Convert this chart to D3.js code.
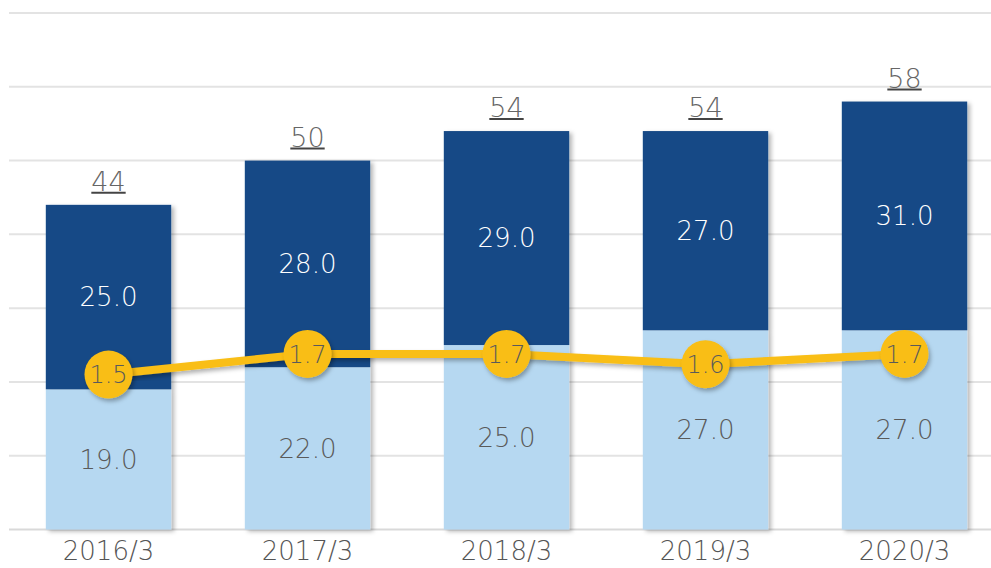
<!DOCTYPE html>
<html><head><meta charset="utf-8">
<script src="https://cdn.jsdelivr.net/npm/d3@7"></script>
<style>html,body{margin:0;padding:0;background:#fff;}svg{display:block;}</style>
</head><body>
<svg id="c" width="991" height="568"></svg>
<script>
const categories = ["2016/3","2017/3","2018/3","2019/3","2020/3"];
const lowerValues = [19.0, 22.0, 25.0, 27.0, 27.0];
const upperValues = [25.0, 28.0, 29.0, 27.0, 31.0];
const totalLabels = ["44","50","54","54","58"];
const lineValues = [1.5, 1.7, 1.7, 1.6, 1.7];
const gridTicks = [0,10,20,30,40,50,60,70];

const FONT = "'DejaVu Sans', sans-serif";
const FW = 200;
const svg = d3.select("#c");
const defs = svg.append("defs");
const f = defs.append("filter").attr("id","sh").attr("x","-20%").attr("y","-20%").attr("width","140%").attr("height","140%");
f.append("feDropShadow").attr("dx",3).attr("dy",2).attr("stdDeviation",2).attr("flood-color","#000").attr("flood-opacity",0.28);
const f2 = defs.append("filter").attr("id","sh2").attr("x","-30%").attr("y","-30%").attr("width","160%").attr("height","160%");
f2.append("feDropShadow").attr("dx",2).attr("dy",3).attr("stdDeviation",2).attr("flood-color","#000").attr("flood-opacity",0.3);

const x = d3.scaleBand().domain(categories).range([9, 1004]).paddingInner(0.37).paddingOuter(0.185);
const y = d3.scaleLinear().domain([0,70]).range([529.5, 13]);
const y2 = d3.scaleLinear().domain([0,5]).range([529.5, 13]);

// gridlines
svg.append("g").selectAll("line").data(gridTicks).join("line")
  .attr("x1", 9).attr("x2", 991)
  .attr("y1", d=>y(d)).attr("y2", d=>y(d))
  .attr("stroke", d => d===0 ? "#d9d9d9" : "#e3e3e3").attr("stroke-width", 2);

// bars
const rows = categories.map((c,i)=>({c, lo: lowerValues[i], up: upperValues[i], tot: totalLabels[i], ln: lineValues[i]}));
const bars = svg.append("g");
bars.selectAll("g.b").data(rows).join("g").attr("class","b").attr("filter","url(#sh)")
  .each(function(d){
    const g = d3.select(this);
    g.append("rect").attr("x", x(d.c)).attr("width", x.bandwidth())
      .attr("y", y(d.lo)).attr("height", y(0)-y(d.lo)).attr("fill","#B6D8F1");
    g.append("rect").attr("x", x(d.c)).attr("width", x.bandwidth())
      .attr("y", y(d.lo+d.up)).attr("height", y(d.lo)-y(d.lo+d.up)).attr("fill","#154886");
  });

// segment labels
const lab = svg.append("g").attr("font-family", FONT).attr("font-weight", FW).attr("font-size", 26).attr("text-anchor","middle");
lab.selectAll("text.lo").data(rows).join("text").attr("class","lo")
  .attr("x", d=>x(d.c)+x.bandwidth()/2).attr("y", d=>(y(0)+y(d.lo))/2).attr("dy","0.36em")
  .attr("fill","#5a5a5a").text(d=>d.lo.toFixed(1));
lab.selectAll("text.up").data(rows).join("text").attr("class","up")
  .attr("x", d=>x(d.c)+x.bandwidth()/2).attr("y", d=>(y(d.lo)+y(d.lo+d.up))/2).attr("dy","0.36em")
  .attr("fill","#ffffff").text(d=>d.up.toFixed(1));

// totals
const tg = svg.append("g").attr("font-family", FONT).attr("font-weight", FW).attr("font-size", 27).attr("text-anchor","middle");
tg.selectAll("g").data(rows).join("g").each(function(d){
  const g = d3.select(this);
  const cx = x(d.c)+x.bandwidth()/2, by = y(d.lo+d.up)-14;
  const t = g.append("text").attr("x", cx).attr("y", by).attr("fill","#666").text(d.tot);
  const w = t.node().getComputedTextLength();
  g.append("line").attr("x1", cx-w/2).attr("x2", cx+w/2).attr("y1", by+2).attr("y2", by+2)
    .attr("stroke","#444").attr("stroke-width",2);
});

// x-axis labels
svg.append("g").attr("font-family", FONT).attr("font-weight", FW).attr("font-size", 26).attr("text-anchor","middle")
  .selectAll("text").data(categories).join("text")
  .attr("x", d=>x(d)+x.bandwidth()/2).attr("y", 560).attr("fill","#555").text(d=>d);

// line
const line = d3.line().x(d=>x(d.c)+x.bandwidth()/2).y(d=>y2(d.ln));
svg.append("path").datum(rows).attr("d", line).attr("fill","none")
  .attr("stroke","#F9BE14").attr("stroke-width",8).attr("filter","url(#sh2)");
const pts = svg.append("g");
pts.selectAll("circle").data(rows).join("circle")
  .attr("cx", d=>x(d.c)+x.bandwidth()/2).attr("cy", d=>y2(d.ln)).attr("r", 24)
  .attr("fill","#F9BE14").attr("filter","url(#sh2)");
pts.selectAll("text").data(rows).join("text")
  .attr("x", d=>x(d.c)+x.bandwidth()/2).attr("y", d=>y2(d.ln)).attr("dy","0.36em")
  .attr("text-anchor","middle").attr("font-family", FONT).attr("font-weight", FW).attr("font-size", 24)
  .attr("fill","#5a5a5a").text(d=>d.ln.toFixed(1));
</script>
</body></html>
